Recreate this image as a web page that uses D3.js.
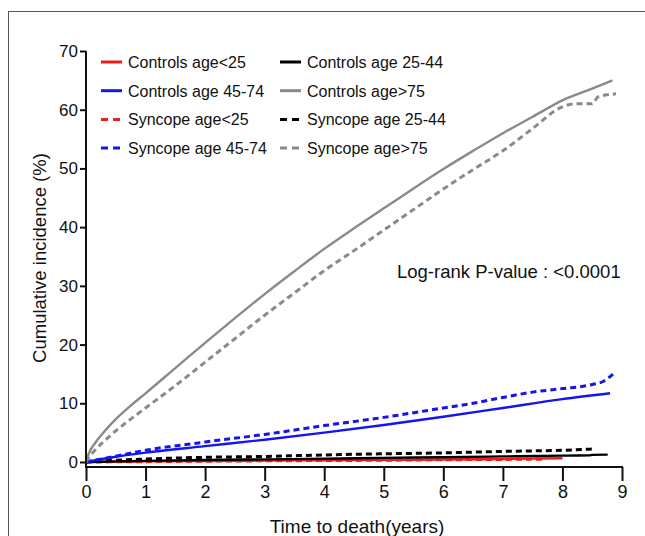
<!DOCTYPE html>
<html>
<head>
<meta charset="utf-8">
<script src="https://cdn.jsdelivr.net/npm/d3@7"></script>
<style>
  body { margin: 0; background: #fff; }
  svg { display: block; font-family: 'Liberation Sans', Arial, sans-serif; }
</style>
</head>
<body>
<div id="chart"></div>
<script>
'use strict';

// time points (years) and cumulative incidence (%) per group
var ctlYoungT = [0, 0.5, 1, 2, 3, 4, 5, 6, 7, 7.5, 8];
var ctlYoungV = [0, 0.05, 0.1, 0.18, 0.24, 0.3, 0.36, 0.43, 0.52, 0.58, 0.65];
var ctlMidT = [0, 0.5, 1, 2, 3, 4, 5, 6, 7, 8, 8.45, 8.5, 8.76];
var ctlMidV = [0, 0.1, 0.2, 0.35, 0.45, 0.55, 0.7, 0.82, 0.95, 1.08, 1.12, 1.22, 1.25];
var ctlOldT = [0, 0.5, 1, 2, 3, 4, 5, 6, 7, 8, 8.8];
var ctlOldV = [0, 0.9, 1.6, 2.7, 3.8, 5.0, 6.3, 7.7, 9.2, 10.7, 11.7];
var ctlEldT = [0, 0.05, 0.15, 0.3, 0.5, 0.75, 1, 1.5, 2, 2.5, 3, 3.5, 4, 4.5, 5, 5.5, 6, 6.5, 7, 7.5, 8, 8.5, 8.84];
var ctlEldV = [0, 1.5, 3.2, 5.1, 7.3, 9.6, 11.7, 16, 20.3, 24.5, 28.6, 32.5, 36.3, 39.8, 43.2, 46.6, 49.9, 53, 56, 58.8, 61.6, 63.6, 65];

var synYoungT = [0, 0.5, 1, 2, 3, 4, 5, 6, 7, 7.7];
var synYoungV = [0, 0.03, 0.06, 0.14, 0.2, 0.25, 0.3, 0.38, 0.44, 0.47];
var synMidT = [0, 0.5, 1, 2, 3, 4, 5, 6, 7, 8, 8.5];
var synMidV = [0, 0.3, 0.5, 0.8, 0.95, 1.2, 1.4, 1.55, 1.8, 2.0, 2.2];
var synOldT = [0, 0.5, 1, 2, 3, 4, 5, 6, 6.5, 7, 7.5, 8, 8.5, 8.7, 8.85];
var synOldV = [0, 1.0, 2.0, 3.4, 4.7, 6.2, 7.6, 9.2, 10.0, 11.0, 11.9, 12.5, 13.2, 13.8, 15];
var synEldT = [0, 0.05, 0.15, 0.3, 0.5, 0.75, 1, 1.5, 2, 2.5, 3, 3.5, 4, 4.5, 5, 5.5, 6, 6.5, 7, 7.5, 8, 8.2, 8.5, 8.6, 8.9];
var synEldV = [0, 0.8, 2, 3.5, 5.3, 7.3, 9.2, 13, 17, 21, 25, 28.8, 32.6, 36, 39.5, 43, 46.5, 49.8, 53, 56.8, 60.5, 61, 61, 62.2, 62.7];

var legendLabels = ['Controls age<25', 'Controls age 25-44', 'Controls age 45-74', 'Controls age>75',
  'Syncope age<25', 'Syncope age 25-44', 'Syncope age 45-74', 'Syncope age>75'];
var groupColors = ['#ee1c1c', '#000000', '#1414f0', '#8a8a8a', '#ee1c1c', '#000000', '#1414f0', '#8a8a8a'];

var xTicks = [0, 1, 2, 3, 4, 5, 6, 7, 8, 9];
var yTicks = [0, 10, 20, 30, 40, 50, 60, 70];

var w = 645, h = 536;
var svg = d3.select('#chart').append('svg').attr('width', w).attr('height', h);

// outer frame of the figure
svg.append('rect')
  .attr('x', 8.5).attr('y', 11.5)
  .attr('width', 700).attr('height', 600)
  .attr('fill', 'none').attr('stroke', '#555').attr('stroke-width', 1);

var x = d3.scaleLinear().domain([0, 9]).range([86, 622]);
var y = d3.scaleLinear().domain([0, 70]).range([462, 51]);

var series = [
  [synYoungT, synYoungV], [ctlYoungT, ctlYoungV],
  [synMidT, synMidV], [ctlMidT, ctlMidV],
  [ctlOldT, ctlOldV], [synOldT, synOldV],
  [ctlEldT, ctlEldV], [synEldT, synEldV]
];
var seriesIdx = [4, 0, 5, 1, 2, 6, 3, 7];

var line = d3.line()
  .x(function(d) { return x(d[0]); })
  .y(function(d) { return y(d[1]); })
  .curve(d3.curveMonotoneX);

series.forEach(function(s, k) {
  var idx = seriesIdx[k];
  var pts = s[0].map(function(t, i) { return [t, s[1][i]]; });
  svg.append('path')
    .datum(pts)
    .attr('d', line)
    .attr('fill', 'none')
    .attr('stroke', groupColors[idx])
    .attr('stroke-width', idx < 4 ? 2.4 : 3)
    .attr('stroke-dasharray', idx < 4 ? null : '6,4')
    .attr('stroke-linejoin', 'round');
});

// axes
var xAxis = svg.append('g')
  .attr('transform', 'translate(0,467)')
  .call(d3.axisBottom(x).tickValues(xTicks).tickSize(14).tickSizeOuter(0).tickPadding(4));
var yAxis = svg.append('g')
  .attr('transform', 'translate(86,0)')
  .call(d3.axisLeft(y).tickValues(yTicks).tickSize(6).tickSizeOuter(0).tickPadding(2));

[xAxis, yAxis].forEach(function(a) {
  a.selectAll('path, line').attr('stroke', '#111').attr('stroke-width', 2);
  a.selectAll('text').attr('fill', '#111').style('font-family', "'Liberation Sans', Arial, sans-serif");
});
xAxis.select('.domain').attr('d', 'M86,0H623');
yAxis.select('.domain').attr('d', 'M0,51V468');
xAxis.selectAll('text').style('font-size', '18px');
yAxis.selectAll('text').style('font-size', '17px');

// axis titles
svg.append('text')
  .attr('x', 357).attr('y', 533)
  .attr('text-anchor', 'middle')
  .style('font-size', '19px').attr('fill', '#111')
  .text('Time to death(years)');
svg.append('text')
  .attr('transform', 'translate(46,258) rotate(-90)')
  .attr('text-anchor', 'middle')
  .style('font-size', '18.5px').attr('fill', '#111')
  .text('Cumulative incidence (%)');

svg.append('text')
  .attr('x', 397).attr('y', 278)
  .style('font-size', '18.5px').attr('fill', '#111')
  .text('Log-rank P-value : <0.0001');

// legend, two columns
var legend = svg.append('g');
legendLabels.forEach(function(lbl, i) {
  var col = i % 2, row = Math.floor(i / 2);
  var lx = col === 0 ? 101 : 280;
  var ly = 62 + row * 28.7;
  legend.append('line')
    .attr('x1', lx).attr('x2', lx + 21)
    .attr('y1', ly).attr('y2', ly)
    .attr('stroke', groupColors[i])
    .attr('stroke-width', 3)
    .attr('stroke-dasharray', i < 4 ? null : '7,5');
  legend.append('text')
    .attr('x', lx + 27).attr('y', ly + 6)
    .style('font-size', '16px').attr('fill', '#111')
    .text(lbl);
});
</script>
</body>
</html>
